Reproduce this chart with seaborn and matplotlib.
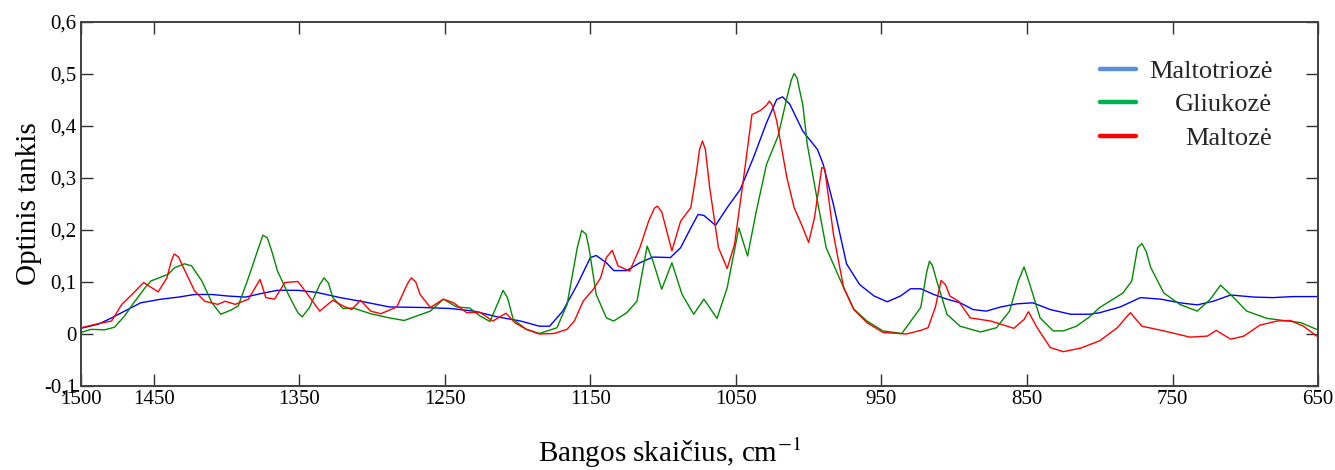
import matplotlib
matplotlib.use("Agg")
import matplotlib.pyplot as plt
import numpy as np
import pandas as pd
import seaborn as sns
from matplotlib.lines import Line2D
from matplotlib.ticker import FuncFormatter, FixedLocator

# ---------------- data ----------------
series_names = ["Maltotriozė", "Gliukozė", "Maltozė"]

maltotrioze_x = [1500, 1488, 1479, 1468, 1459, 1445, 1433, 1422, 1410, 1399, 1387, 1376, 1365, 1351,
                 1338, 1322, 1306, 1288, 1265, 1246, 1230, 1214, 1198, 1185, 1178, 1169, 1159, 1150,
                 1146, 1139, 1134, 1125, 1116, 1107, 1095, 1088, 1081, 1076, 1072, 1064, 1056, 1047,
                 1038, 1029, 1022, 1018, 1013, 1004, 994, 990, 983, 974, 965, 955, 946, 937, 930, 923,
                 914, 905, 896, 887, 878, 868, 857, 846, 834, 820, 807, 800, 786, 772, 758, 745, 733,
                 722, 710, 694, 681, 667, 651]
maltotrioze_y = [0.011, 0.019, 0.031, 0.047, 0.060, 0.067, 0.071, 0.076, 0.076, 0.073, 0.071, 0.078, 0.084,
                 0.084, 0.080, 0.070, 0.062, 0.052, 0.051, 0.049, 0.044, 0.033, 0.025, 0.015, 0.015, 0.044,
                 0.095, 0.147, 0.151, 0.137, 0.122, 0.122, 0.137, 0.148, 0.147, 0.166, 0.204, 0.230, 0.228,
                 0.209, 0.243, 0.278, 0.339, 0.406, 0.451, 0.456, 0.442, 0.390, 0.355, 0.326, 0.249, 0.135,
                 0.095, 0.073, 0.062, 0.073, 0.087, 0.087, 0.076, 0.067, 0.060, 0.047, 0.044, 0.052, 0.058,
                 0.060, 0.047, 0.038, 0.038, 0.041, 0.052, 0.070, 0.067, 0.060, 0.056, 0.063, 0.075, 0.071,
                 0.070, 0.072, 0.072]

gliukoze_x = [1500, 1493, 1484, 1477, 1470, 1463, 1456, 1452, 1440, 1436, 1429, 1424, 1417, 1410, 1404,
              1397, 1392, 1385, 1378, 1375, 1372, 1369, 1365, 1357, 1351, 1348, 1343, 1336, 1333, 1330,
              1327, 1320, 1313, 1301, 1288, 1278, 1269, 1260, 1251, 1242, 1233, 1226, 1219, 1212, 1210,
              1207, 1203, 1194, 1185, 1173, 1166, 1159, 1156, 1153, 1151, 1146, 1139, 1134, 1125, 1118,
              1111, 1107, 1101, 1094, 1087, 1079, 1072, 1063, 1056, 1048, 1042, 1036, 1029, 1021, 1015,
              1012, 1010, 1008, 1004, 1001, 994, 988, 978, 969, 960, 949, 936, 929, 923, 919, 917, 915,
              912, 905, 896, 882, 871, 862, 856, 852, 848, 841, 832, 825, 816, 807, 800, 784, 778, 774,
              771, 768, 765, 756, 745, 733, 724, 717, 708, 699, 685, 671, 662, 651]
gliukoze_y = [0.003, 0.009, 0.008, 0.013, 0.035, 0.063, 0.089, 0.102, 0.115, 0.127, 0.135, 0.131, 0.102,
              0.060, 0.038, 0.046, 0.054, 0.108, 0.166, 0.190, 0.185, 0.160, 0.121, 0.073, 0.041, 0.033,
              0.051, 0.095, 0.108, 0.098, 0.070, 0.049, 0.050, 0.039, 0.031, 0.026, 0.035, 0.044, 0.067,
              0.052, 0.050, 0.035, 0.024, 0.070, 0.084, 0.070, 0.028, 0.009, 0.001, 0.012, 0.057, 0.166,
              0.199, 0.192, 0.166, 0.076, 0.031, 0.025, 0.041, 0.063, 0.169, 0.140, 0.086, 0.137, 0.076,
              0.038, 0.067, 0.030, 0.089, 0.204, 0.150, 0.236, 0.326, 0.381, 0.454, 0.488, 0.501, 0.492,
              0.440, 0.365, 0.256, 0.166, 0.102, 0.048, 0.025, 0.006, 0.001, 0.028, 0.051, 0.118, 0.140,
              0.132, 0.102, 0.038, 0.015, 0.004, 0.012, 0.044, 0.102, 0.129, 0.095, 0.031, 0.006, 0.006,
              0.015, 0.033, 0.051, 0.079, 0.102, 0.166, 0.174, 0.158, 0.128, 0.079, 0.057, 0.044, 0.067,
              0.094, 0.070, 0.044, 0.030, 0.025, 0.022, 0.009]

maltoze_x = [1500, 1488, 1479, 1472, 1465, 1457, 1447, 1441, 1438, 1436, 1433, 1429, 1422, 1415, 1406,
             1401, 1394, 1385, 1377, 1373, 1367, 1360, 1351, 1345, 1336, 1327, 1320, 1314, 1308, 1301,
             1294, 1283, 1277, 1275, 1273, 1270, 1267, 1260, 1251, 1244, 1235, 1226, 1217, 1208, 1202,
             1194, 1185, 1175, 1166, 1161, 1155, 1148, 1143, 1139, 1135, 1131, 1123, 1116, 1110, 1106,
             1104, 1101, 1094, 1088, 1081, 1077, 1075, 1073, 1071, 1068, 1062, 1056, 1051, 1045, 1039,
             1033, 1029, 1027, 1025, 1022, 1015, 1010, 1005, 1000, 996, 991, 989, 983, 976, 969, 960,
             949, 933, 923, 918, 913, 909, 906, 903, 897, 889, 875, 859, 852, 849, 843, 834, 825, 813,
             800, 788, 779, 771, 756, 738, 726, 720, 710, 701, 690, 678, 669, 660, 651]
maltoze_y = [0.012, 0.020, 0.025, 0.057, 0.076, 0.099, 0.081, 0.108, 0.140, 0.154, 0.148, 0.124, 0.083,
             0.063, 0.057, 0.063, 0.057, 0.067, 0.105, 0.070, 0.067, 0.099, 0.101, 0.079, 0.044, 0.065,
             0.054, 0.047, 0.065, 0.044, 0.039, 0.052, 0.089, 0.100, 0.108, 0.100, 0.076, 0.051, 0.067,
             0.060, 0.041, 0.042, 0.025, 0.040, 0.022, 0.009, 0.000, 0.001, 0.009, 0.025, 0.063, 0.086,
             0.108, 0.147, 0.161, 0.131, 0.121, 0.166, 0.217, 0.242, 0.246, 0.235, 0.160, 0.217, 0.243,
             0.313, 0.355, 0.371, 0.355, 0.281, 0.166, 0.126, 0.172, 0.294, 0.422, 0.430, 0.440, 0.448,
             0.440, 0.410, 0.301, 0.243, 0.211, 0.176, 0.224, 0.320, 0.318, 0.192, 0.089, 0.047, 0.022,
             0.003, 0.000, 0.007, 0.012, 0.051, 0.103, 0.095, 0.073, 0.063, 0.031, 0.025, 0.011, 0.028,
             0.043, 0.012, -0.026, -0.034, -0.027, -0.013, 0.012, 0.041, 0.015, 0.006, -0.006, -0.004,
             0.007, -0.010, -0.004, 0.017, 0.025, 0.026, 0.015, -0.004]

x_ticks = [1500, 1450, 1350, 1250, 1150, 1050, 950, 850, 750, 650]
y_ticks = [-0.1, 0, 0.1, 0.2, 0.3, 0.4, 0.5, 0.6]

line_colors = ["#0000FF", "#008A00", "#FF0000"]
legend_colors = ["#5B8FDB", "#00B050", "#FF0000"]

# ---------------- frame ----------------
frames = []
for name, xs, ys in zip(series_names,
                        [maltotrioze_x, gliukoze_x, maltoze_x],
                        [maltotrioze_y, gliukoze_y, maltoze_y]):
    frames.append(pd.DataFrame({"x": xs, "y": ys, "series": name}))
df = pd.concat(frames, ignore_index=True)

sns.set_theme(style="white")
plt.rcParams["font.family"] = ["Liberation Serif", "DejaVu Serif"]
plt.rcParams["mathtext.fontset"] = "stix"

fig = plt.figure(figsize=(13.35, 4.70), dpi=100)
ax = fig.add_axes([0.0607, 0.1787, 0.9266, 0.7745])

sns.lineplot(data=df, x="x", y="y", hue="series", hue_order=series_names,
             palette=dict(zip(series_names, line_colors)), estimator=None, sort=False,
             linewidth=1.0, ax=ax, legend=False)

ax.set_xlim(1500, 650)
ax.set_ylim(-0.1, 0.6)
ax.xaxis.set_major_locator(FixedLocator(x_ticks))
ax.yaxis.set_major_locator(FixedLocator(y_ticks))


def yfmt(v, pos):
    if abs(v) < 1e-9:
        return "0"
    return f"{v:.1f}".replace(".", ",")


ax.yaxis.set_major_formatter(FuncFormatter(yfmt))
ax.xaxis.set_major_formatter(FuncFormatter(lambda v, p: f"{int(round(v))}"))

for s in ax.spines.values():
    s.set_visible(True)
    s.set_color("#404040")
    s.set_linewidth(1.4)

ax.tick_params(axis="both", which="major", direction="in", length=8.5, width=1.0,
               color="#303030", labelsize=15, labelcolor="black",
               top=True, right=True, bottom=True, left=True, pad=3)

ax.set_xlabel("Bangos skaičius, cm$^{-1}$", fontsize=21, color="black")
ax.set_ylabel("Optinis tankis", fontsize=21, color="black", labelpad=1)
ax.xaxis.set_label_coords(0.476, -0.135)

handles = [Line2D([0], [0], color=c, lw=3.2) for c in legend_colors]
leg = ax.legend(handles, series_names, loc="upper right", bbox_to_anchor=(0.963, 0.897),
                frameon=False, fontsize=19, handlelength=1.35, handletextpad=0.5,
                labelspacing=0.38, borderpad=0, borderaxespad=0)

# right-align the legend labels
fig.canvas.draw()
renderer = fig.canvas.get_renderer()
texts = leg.get_texts()
widths = [t.get_window_extent(renderer).width for t in texts]
wmax = max(widths)
for t, w in zip(texts, widths):
    t.set_position((wmax - w, 0))

fig.savefig("out.png", dpi=100)
